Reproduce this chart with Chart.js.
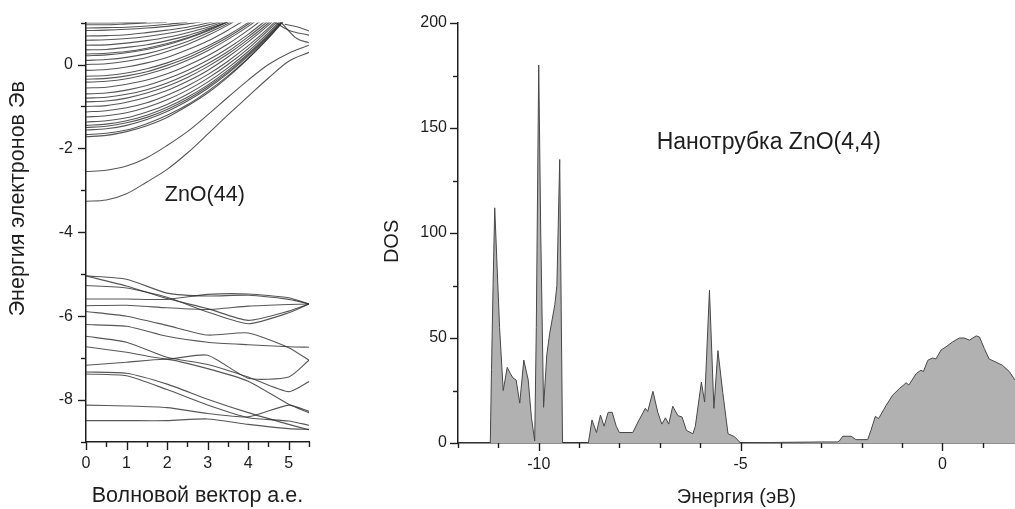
<!DOCTYPE html>
<html><head><meta charset="utf-8">
<script src="https://cdn.jsdelivr.net/npm/chart.js@4.4.0/dist/chart.umd.min.js"></script>
<style>
html,body{margin:0;padding:0;background:#fff;width:1015px;height:509px;overflow:hidden}
#c1{position:absolute;left:0;top:0}
#c2{position:absolute;left:370px;top:0}
</style></head><body>
<canvas id="c1" width="330" height="509"></canvas>
<canvas id="c2" width="645" height="509"></canvas>
<script>
// ---------- Band structure (left panel) ----------
const kPoints = [0,0.5,1,1.5,2,2.5,3,3.5,4,4.5,5,5.5];
const conductionBands = [
  [-3.26,-3.23,-3.08,-2.80,-2.50,-2.11,-1.66,-1.20,-0.76,-0.32,0.08,0.29],
  [-2.55,-2.52,-2.42,-2.22,-1.93,-1.60,-1.20,-0.78,-0.37,0.00,0.27,0.46],
  [-1.72,-1.69,-1.60,-1.46,-1.26,-0.99,-0.68,-0.30,0.14,0.63,1.18],
  [-1.67,-1.64,-1.56,-1.41,-1.21,-0.96,-0.64,-0.27,0.15,0.64,1.18],
  [-1.56,-1.53,-1.45,-1.31,-1.12,-0.87,-0.57,-0.21,0.20,0.67,1.19],
  [-1.50,-1.47,-1.39,-1.26,-1.07,-0.83,-0.53,-0.18,0.23,0.69,1.20],
  [-1.45,-1.42,-1.34,-1.21,-1.02,-0.78,-0.49,-0.14,0.26,0.72,1.23],
  [-1.37,-1.34,-1.27,-1.13,-0.95,-0.71,-0.42,-0.08,0.31,0.76,1.26],
  [-1.25,-1.22,-1.15,-1.02,-0.84,-0.61,-0.33,0.00,0.38,0.82,1.30],
  [-1.13,-1.10,-1.03,-0.91,-0.73,-0.51,-0.24,0.08,0.45,0.87,1.35],
  [-1.00,-0.98,-0.90,-0.78,-0.62,-0.40,-0.14,0.18,0.54,0.94,1.40],
  [-0.89,-0.87,-0.80,-0.68,-0.52,-0.31,-0.05,0.25,0.60,0.99,1.44],
  [-0.80,-0.78,-0.71,-0.60,-0.44,-0.23,0.02,0.31,0.66,1.04],
  [-0.70,-0.68,-0.61,-0.50,-0.34,-0.14,0.10,0.39,0.72,1.10],
  [-0.56,-0.54,-0.47,-0.37,-0.22,-0.02,0.21,0.49,0.82,1.18],
  [-0.42,-0.40,-0.34,-0.23,-0.09,0.10,0.33,0.60,0.91,1.26],
  [-0.35,-0.33,-0.27,-0.17,-0.02,0.16,0.39,0.65,0.96,1.31],
  [-0.28,-0.26,-0.20,-0.10,0.04,0.22,0.44,0.70,1.00,1.34],
  [-0.14,-0.12,-0.06,0.04,0.17,0.35,0.56,0.82,1.11],
  [0.00,0.02,0.08,0.17,0.31,0.48,0.69,0.94,1.23],
  [0.10,0.12,0.17,0.26,0.39,0.55,0.75,0.98,1.25],
  [0.21,0.23,0.28,0.36,0.47,0.62,0.80,1.02],
  [0.25,0.27,0.31,0.39,0.50,0.64,0.82,1.02],
  [0.35,0.36,0.41,0.47,0.57,0.69,0.85,1.02],
  [0.46,0.47,0.51,0.57,0.65,0.76,0.89,1.05],
  [0.58,0.59,0.62,0.67,0.74,0.83,0.94,1.07],
  [0.68,0.69,0.71,0.76,0.82,0.89,0.99,1.10],
  [0.81,0.82,0.84,0.87,0.91,0.97,1.04],
  [0.87,0.88,0.89,0.92,0.96,1.01],
  [0.95,0.95,0.97,0.99,1.01],
  [0.99,0.99,1.00,1.01]
];
const edgeBandK = [[4.6,5.0,5.5],[4.8,5.2,5.5],[4.9,5.2,5.5]];
const edgeBandE = [[1.05,0.82,0.70],[1.02,0.62,0.52],[0.96,0.90,0.80]];

const valenceK = [0,1,2,3,4,5,5.5];
const valenceBands = [
  [-5.04,-5.12,-5.45,-5.52,-5.50,-5.60,-5.71],
  [-5.04,-5.28,-5.58,-5.82,-6.10,-5.88,-5.71],
  [-5.27,-5.33,-5.55,-5.90,-6.18,-5.92,-5.71],
  [-5.59,-5.59,-5.60,-5.48,-5.47,-5.56,-5.71],
  [-5.75,-5.74,-5.80,-5.84,-5.76,-5.72,-5.71],
  [-5.89,-6.00,-6.22,-6.45,-6.40,-6.75,-7.05],
  [-6.20,-6.24,-6.48,-6.62,-6.68,-6.73,-6.74],
  [-6.48,-6.62,-6.98,-7.15,-7.45,-7.80,-7.56],
  [-6.73,-6.86,-7.02,-6.93,-7.48,-7.45,-7.05],
  [-7.17,-7.10,-7.03,-7.25,-7.55,-8.10,-8.30],
  [-7.33,-7.36,-7.62,-7.98,-8.30,-8.58,-8.71],
  [-7.38,-7.42,-7.75,-8.12,-8.42,-8.50,-8.60],
  [-8.12,-8.14,-8.18,-8.32,-8.40,-8.12,-8.27],
  [-8.49,-8.49,-8.49,-8.45,-8.58,-8.68,-8.70]
];
const bandXLabels = [0,1,2,3,4,5];
const bandYLabels = [-8,-6,-4,-2,0];

// ---------- DOS (right panel) ----------
const dosEnergy = [-12,-11.2,-11.17,-11.13,-11.09,-10.97,-10.88,-10.78,-10.7,-10.64,-10.56,-10.47,-10.37,-10.26,-10.18,-10.1,
  -10.06,-10.0,-9.95,-9.88,-9.8,-9.73,-9.6,-9.55,-9.48,-9.41,
  -8.77,-8.68,-8.57,-8.47,-8.38,-8.28,-8.18,-8.08,-8.0,-7.67,-7.54,-7.36,-7.30,-7.17,-7.05,-6.95,-6.86,-6.78,-6.68,-6.55,-6.45,-6.34,-6.18,-6.12,
  -5.97,-5.89,-5.77,-5.66,-5.56,-5.44,-5.31,-5.15,-5.0,-4.0,-3.0,-2.6,-2.55,-2.47,-2.26,-2.14,-1.85,-1.77,-1.66,-1.58,-1.39,-1.23,-1.06,-0.96,
  -0.90,-0.83,-0.65,-0.53,-0.47,-0.36,-0.24,-0.16,-0.03,0.09,0.26,0.42,0.54,0.67,0.84,0.92,1.04,1.16,1.33,1.49,1.66,1.8];
const dosValues = [0,0,35,76,112,55,25,36,33,31,30,19,39.5,30,12,1,
  55,180,100,17,42,52,66,75,135,0,
  0,11,5,13.3,8,14.6,14.6,8,5,5,10,16.5,15,24.6,14.6,9,12,9,17.5,13,12.4,6,4.4,8,
  29,19.5,72.7,16.5,44,24,4.4,3,0,0.3,0.5,0.5,1,3.2,3.2,1.6,1.6,6,12.7,11.6,18,22.8,26,27.6,
  28.7,27.6,33,34.7,34,39.4,40.5,40,44.3,45.8,48.2,50,50,49,51,50.5,45,40,38.5,37,34,30];
const dosXLabels = [-10,-5,0];
const dosYLabels = [0,50,100,150,200];

const FONT = "'Liberation Sans', Arial, sans-serif";
const INK = '#1e1e1e';

const tickMarks = {
  id: 'tickMarks',
  afterDraw(chart, args, opts) {
    const ctx = chart.ctx;
    ctx.save();
    ctx.strokeStyle = INK; ctx.lineWidth = 1.4;
    ['x','y'].forEach(id => {
      const s = chart.scales[id];
      s.ticks.forEach(t => {
        const major = t.label !== '' && t.label !== undefined;
        const len = major ? opts.major : opts.minor;
        const p = Math.round(s.getPixelForValue(t.value)) + 0.5;
        ctx.beginPath();
        if (id === 'x') { ctx.moveTo(p, s.top); ctx.lineTo(p, s.top + len); }
        else { ctx.moveTo(s.right, p); ctx.lineTo(s.right - len, p); }
        ctx.stroke();
      });
    });
    ctx.restore();
  }
};
const innerText = {
  id: 'innerText',
  afterDraw(chart, args, opts) {
    const ctx = chart.ctx;
    ctx.save();
    ctx.fillStyle = INK;
    ctx.textAlign = 'center'; ctx.textBaseline = 'middle';
    opts.items.forEach(it => {
      ctx.font = it.size + 'px ' + FONT;
      const py = chart.scales.y.getPixelForValue(it.y);
      if (it.rotate) {
        ctx.save();
        ctx.translate(it.px, py);
        ctx.rotate(-Math.PI / 2);
        ctx.fillText(it.text, 0, 0);
        ctx.restore();
      } else {
        ctx.fillText(it.text, chart.scales.x.getPixelForValue(it.x), py);
      }
    });
    ctx.restore();
  }
};

function axis(min, max, step, labels, fontSize, pad, title, titleSize, titlePad, fit) {
  return {
    type: 'linear', min, max,
    ticks: { stepSize: step, autoSkip: false, maxRotation: 0, includeBounds: false, padding: pad, color: INK,
      font: { family: FONT, size: fontSize },
      callback: v => labels.some(l => Math.abs(l - v) < 1e-9) ? String(v) : '' },
    grid: { display: false, drawTicks: false },
    border: { display: true, color: INK, width: 1.5 },
    title: { display: !!title, text: title, color: INK, font: { family: FONT, size: titleSize }, padding: titlePad },
    afterFit: fit
  };
}

const bandDatasets = [];
conductionBands.forEach(b => bandDatasets.push({
  data: b.map((e, i) => ({ x: kPoints[i], y: e })), cubicInterpolationMode: 'monotone'
}));
edgeBandK.forEach((ks, j) => bandDatasets.push({
  data: ks.map((k, i) => ({ x: k, y: edgeBandE[j][i] })), cubicInterpolationMode: 'monotone'
}));
valenceBands.forEach(b => bandDatasets.push({
  data: b.map((e, i) => ({ x: valenceK[i], y: e })), tension: 0.2
}));
bandDatasets.forEach(d => Object.assign(d, {
  borderColor: 'rgba(45,45,45,0.8)', borderWidth: 1.1, pointRadius: 0, fill: false, clip: 0
}));

new Chart(document.getElementById('c1'), {
  type: 'line',
  data: { datasets: bandDatasets },
  options: {
    responsive: false, animation: false, devicePixelRatio: 1,
    layout: { padding: { top: 20, right: 21, left: 0, bottom: 0 } },
    plugins: { legend: { display: false }, tooltip: { enabled: false },
      tickMarks: { major: 8, minor: 5 },
      innerText: { items: [
        { text: 'ZnO(44)', x: 2.93, y: -3.12, size: 21.5 },
        { text: 'Энергия электронов Эв', px: 18, y: -3.2, size: 21.5, rotate: true }
      ] } },
    scales: {
      x: axis(0, 5.5, 0.5, bandXLabels, 16, 12, 'Волновой вектор а.е.', 21.5, { top: 0, bottom: 0 }, s => { s.height = 67; }),
      y: axis(-9, 1, 1, bandYLabels, 16, 13, '', 21.5, { top: 0, bottom: 0 }, s => { s.width = 86; })
    }
  },
  plugins: [tickMarks, innerText]
});

new Chart(document.getElementById('c2'), {
  type: 'line',
  data: { datasets: [{
    data: dosEnergy.map((e, i) => ({ x: e, y: dosValues[i] })),
    borderColor: '#474747', borderWidth: 1, backgroundColor: '#b1b1b1',
    fill: 'origin', tension: 0, pointRadius: 0
  }] },
  options: {
    responsive: false, animation: false, devicePixelRatio: 1,
    layout: { padding: { top: 23, right: 0, left: 0, bottom: 0 } },
    plugins: { legend: { display: false }, tooltip: { enabled: false },
      tickMarks: { major: 8, minor: 5 },
      innerText: { items: [
        { text: 'Нанотрубка ZnO(4,4)', x: -4.3, y: 143, size: 23 },
        { text: 'DOS', px: 22, y: 96, size: 20, rotate: true }
      ] } },
    scales: {
      x: axis(-12, 1.8, 1, dosXLabels, 16, 12, 'Энергия (эВ)', 20, { top: 0, bottom: 0 }, s => { s.height = 66; }),
      y: axis(0, 200, 25, dosYLabels, 16, 11, '', 20, { top: 0, bottom: 0 }, s => { s.width = 88; })
    }
  },
  plugins: [tickMarks, innerText]
});
</script>
</body></html>
